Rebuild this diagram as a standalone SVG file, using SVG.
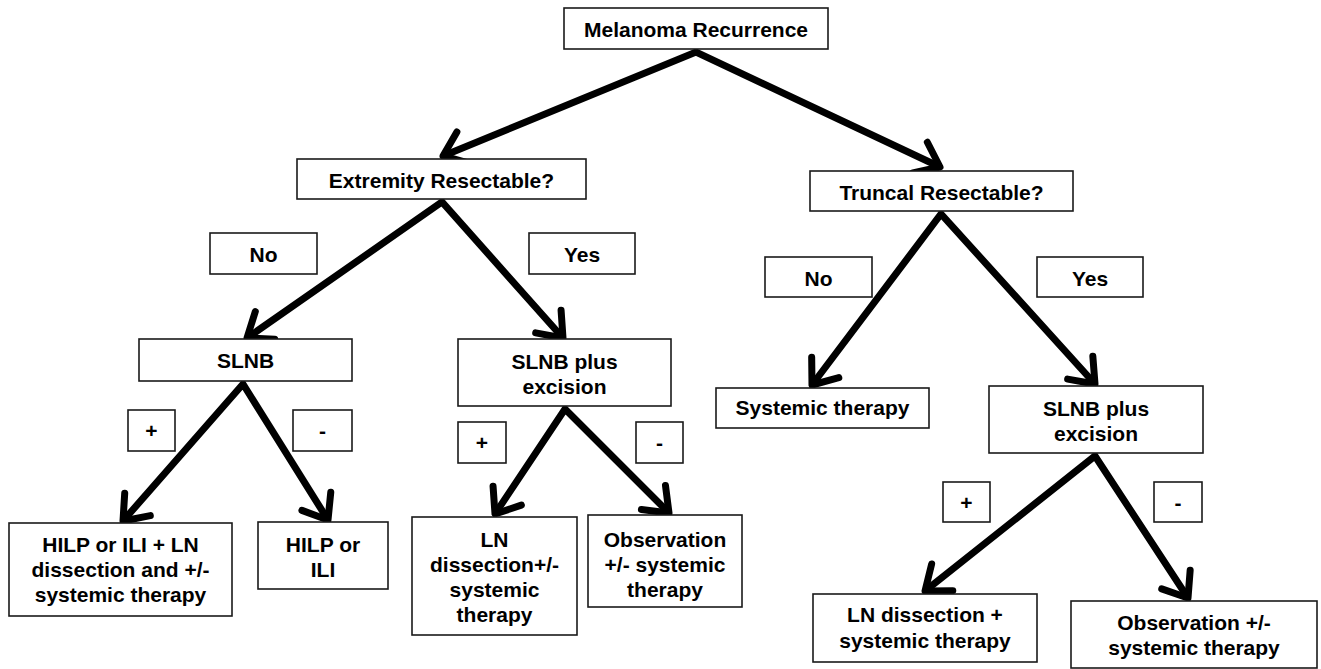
<svg xmlns="http://www.w3.org/2000/svg" width="1321" height="669" viewBox="0 0 1321 669">
<style>
.box{fill:#fff;stroke:#1a1a1a;stroke-width:1.6}
.t{font-family:"Liberation Sans",Arial,sans-serif;font-weight:bold;font-size:21px;fill:#000;text-anchor:middle}
.conn{fill:none;stroke:#000;stroke-width:7;stroke-linejoin:miter;stroke-miterlimit:10}
</style>
<defs>
<marker id="ah" markerUnits="userSpaceOnUse" orient="auto-start-reverse" markerWidth="60" markerHeight="60" refX="0" refY="0" viewBox="-30 -30 60 60" overflow="visible">
<path d="M -22 -17 L 0 0 L -22 17" fill="none" stroke="#000" stroke-width="7" stroke-linecap="round" stroke-linejoin="round"/>
</marker>
</defs>
<rect width="1321" height="669" fill="#fff"/>
<g id="connectors">
<path class="conn" d="M 443 156 L 696 52 L 940 167" marker-start="url(#ah)" marker-end="url(#ah)"/>
<path class="conn" d="M 247 338 L 442 202 L 563 338" marker-start="url(#ah)" marker-end="url(#ah)"/>
<path class="conn" d="M 812 385 L 941 214 L 1095 384" marker-start="url(#ah)" marker-end="url(#ah)"/>
<path class="conn" d="M 123 521 L 243 384 L 328 520" marker-start="url(#ah)" marker-end="url(#ah)"/>
<path class="conn" d="M 495 514 L 565 409 L 669 513" marker-start="url(#ah)" marker-end="url(#ah)"/>
<path class="conn" d="M 925 591 L 1095 456 L 1188 598" marker-start="url(#ah)" marker-end="url(#ah)"/>
</g>
<g id="n_melanoma"><rect class="box" x="564" y="8" width="264" height="41"/><text class="t" x="696" y="37">Melanoma Recurrence</text></g>
<g id="n_extremity"><rect class="box" x="297" y="159" width="289" height="40"/><text class="t" x="441.5" y="188">Extremity Resectable?</text></g>
<g id="l_no_left"><rect class="box" x="210" y="233" width="107" height="41"/><text class="t" x="263.5" y="262">No</text></g>
<g id="l_yes_left"><rect class="box" x="529" y="233" width="106" height="41"/><text class="t" x="582" y="262">Yes</text></g>
<g id="n_truncal"><rect class="box" x="810" y="171" width="263" height="40"/><text class="t" x="941.5" y="199.5">Truncal Resectable?</text></g>
<g id="l_no_right"><rect class="box" x="765" y="257" width="107" height="40"/><text class="t" x="818.5" y="285.5">No</text></g>
<g id="l_yes_right"><rect class="box" x="1037" y="257" width="106" height="40"/><text class="t" x="1090" y="285.5">Yes</text></g>
<g id="n_slnb"><rect class="box" x="139" y="339" width="213" height="42"/><text class="t" x="245.5" y="367.5">SLNB</text></g>
<g id="n_slnb_exc_left"><rect class="box" x="458" y="339" width="213" height="67"/><text class="t" x="564.5" y="369">SLNB plus</text><text class="t" x="564.5" y="394">excision</text></g>
<g id="n_systemic"><rect class="box" x="716" y="388" width="213" height="40"/><text class="t" x="822.5" y="415">Systemic therapy</text></g>
<g id="n_slnb_exc_right"><rect class="box" x="989" y="386" width="214" height="67"/><text class="t" x="1096" y="416">SLNB plus</text><text class="t" x="1096" y="441">excision</text></g>
<g id="l_plus_1"><rect class="box" x="128" y="410" width="47" height="41"/><text class="t" x="151.5" y="438">+</text></g>
<g id="l_minus_1"><rect class="box" x="293" y="410" width="59" height="41"/><text class="t" x="322.5" y="438">-</text></g>
<g id="l_plus_2"><rect class="box" x="458" y="422" width="48" height="41"/><text class="t" x="482" y="450">+</text></g>
<g id="l_minus_2"><rect class="box" x="636" y="422" width="47" height="41"/><text class="t" x="659.5" y="450">-</text></g>
<g id="l_plus_3"><rect class="box" x="943" y="482" width="47" height="40"/><text class="t" x="966.5" y="509.5">+</text></g>
<g id="l_minus_3"><rect class="box" x="1154" y="482" width="48" height="40"/><text class="t" x="1178" y="509.5">-</text></g>
<g id="n_hilp_ln"><rect class="box" x="9" y="523" width="223" height="93"/><text class="t" x="120.5" y="552">HILP or ILI + LN</text><text class="t" x="120.5" y="577">dissection and +/-</text><text class="t" x="120.5" y="602">systemic therapy</text></g>
<g id="n_hilp"><rect class="box" x="258" y="522" width="130" height="67"/><text class="t" x="323" y="552">HILP or</text><text class="t" x="323" y="577">ILI</text></g>
<g id="n_ln_left"><rect class="box" x="412" y="517" width="165" height="118"/><text class="t" x="494.5" y="547">LN</text><text class="t" x="494.5" y="572">dissection+/-</text><text class="t" x="494.5" y="597">systemic</text><text class="t" x="494.5" y="622">therapy</text></g>
<g id="n_obs_left"><rect class="box" x="588" y="515" width="154" height="92"/><text class="t" x="665" y="547">Observation</text><text class="t" x="665" y="572">+/- systemic</text><text class="t" x="665" y="597">therapy</text></g>
<g id="n_ln_right"><rect class="box" x="813" y="594" width="224" height="68"/><text class="t" x="925" y="622">LN dissection +</text><text class="t" x="925" y="648">systemic therapy</text></g>
<g id="n_obs_right"><rect class="box" x="1071" y="601" width="246" height="67"/><text class="t" x="1194" y="630">Observation +/-</text><text class="t" x="1194" y="655">systemic therapy</text></g>
</svg>
